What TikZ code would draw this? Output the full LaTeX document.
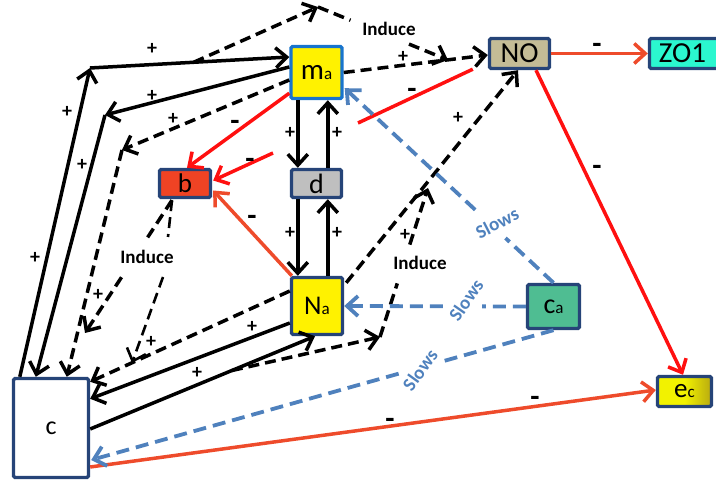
\documentclass[tikz,border=0pt]{standalone}
\usepackage{fontspec}
\setmainfont{Carlito}
\usetikzlibrary{arrows.meta,calc}
\definecolor{navy}{HTML}{264478}
\definecolor{mablue}{HTML}{1874CD}
\definecolor{notan}{HTML}{C4BC96}
\definecolor{zocyan}{HTML}{2BF7CF}
\definecolor{bred}{HTML}{EF4324}
\definecolor{dgray}{HTML}{BFBFBF}
\definecolor{cagreen}{HTML}{4FBD92}
\definecolor{ecy}{HTML}{F2F200}
\definecolor{ecd}{HTML}{B8AA10}
\definecolor{pred}{HTML}{FF1010}
\definecolor{ored}{HTML}{EE4B2B}
\definecolor{sblue}{HTML}{4F81BD}
\tikzset{
  box/.style={draw=navy, line width=3.4pt, inner sep=0pt, rounded corners=1.5pt, font=\fontsize{29}{29}\selectfont},
  tipb/.tip={Straight Barb[length=11pt,width=20pt]},
  ar/.style={line width=3.5pt, -tipb},
  ln/.style={line width=3.5pt},
  dsh/.style={dash pattern=on 11pt off 6pt},
  bd/.style={draw=sblue, line width=3.8pt, dash pattern=on 13pt off 7pt},
  pls/.style={font=\bfseries\fontsize{20}{20}\selectfont, inner sep=0pt},
  mns/.style={font=\bfseries\fontsize{30}{30}\selectfont, inner sep=0pt},
  ind/.style={font=\bfseries\fontsize{19}{19}\selectfont, inner sep=0pt},
  slw/.style={font=\bfseries\fontsize{19}{19}\selectfont, text=sblue, inner sep=0pt},
}
\newcommand\subt[1]{{\fontsize{17}{17}\selectfont #1}}
\begin{document}
\begin{tikzpicture}[x=1pt,y=-1pt]
\useasboundingbox (0,0) rectangle (716,481);
\clip (0,0) rectangle (716,481);
% nodes
\node[box, draw=mablue, fill=yellow, minimum width=51pt, minimum height=52pt] (ma) at (316.5,72.5) {m\subt{a}};
\node[box, fill=notan, minimum width=60pt, minimum height=30pt] (NO) at (519.5,53.5) {NO};
\node[box, fill=zocyan, minimum width=70pt, minimum height=30pt] (ZO1) at (684.5,53.5) {ZO1\hspace*{4pt}};
\node[box, fill=bred, minimum width=51pt, minimum height=28pt, font=\fontsize{27}{27}\selectfont] (b) at (185,183.5) {b};
\node[box, fill=dgray, minimum width=50pt, minimum height=28pt, font=\fontsize{28}{28}\selectfont] (d) at (316.5,183.5) {d};
\node[box, fill=yellow, minimum width=51pt, minimum height=57pt, font=\fontsize{27}{27}\selectfont] (Na) at (317,306) {N\subt{a}};
\node[box, fill=cagreen, minimum width=52pt, minimum height=44pt, font=\fontsize{28}{28}\selectfont] (ca) at (553.5,306.5) {c\subt{a}};
\node[box, left color=ecy, right color=ecd, middle color=ecy, minimum width=54pt, minimum height=30pt, font=\fontsize{27}{27}\selectfont] (ec) at (684.5,391.5) {e\subt{c}};
\node[box, fill=white, minimum width=75pt, minimum height=99pt, font=\fontsize{26}{26}\selectfont] (c) at (51,428) {c};
% bend and free-end coordinates
\coordinate (k1) at (90,68);
\coordinate (k2) at (105,115);
\coordinate (k3) at (122,150);
\coordinate (maL1) at ($(ma.west)+(0,-15.5)$);
\coordinate (ti) at (318,7);
\coordinate (te) at (448,60);
\coordinate (cNa1) at ($(c.east)+(0,1)$);
\coordinate (cNa2) at ($(Na.south)+(-2,0)$);
\coordinate (bi) at (380,337);
\coordinate (be) at (428,188);
\coordinate (bA) at ($(b.south)+(-13,1)$);
\coordinate (bAe) at (85,333);
\coordinate (bB1) at (168,237);
\coordinate (bB2) at (163,277);
\coordinate (bBe) at (132,363);
% black solid connectors
\draw[ar] ($(c.north west)+(8,0)$) -- (k1);
\draw[ar] (k1) -- (maL1);
\draw[ar] ($(ma.west)+(0,-5.5)$) -- (k2);
\draw[ar] (k2) -- ($(c.north west)+(24,0)$);
\draw[ar] ($(ma.south west)+(8.5,0)$) -- ($(d.north west)+(8,0)$);
\draw[ar] ($(d.north west)+(38,0)$) -- ($(ma.south west)+(38.5,0)$);
\draw[ar] ($(d.south west)+(8,0)$) -- ($(Na.north west)+(8,0)$);
\draw[ar] ($(Na.north west)+(38,0)$) -- ($(d.south west)+(38,0)$);
\draw[ar] ($(Na.west)+(0,17)$) -- ($(c.north east)+(0,22)$);
\draw[ar] (cNa1) -- (cNa2);
% black dashed connectors
\draw[ar,dsh] ($(ma.west)+(0,7.5)$) -- (k3);
\draw[ar,dsh] (k3) -- ($(c.north west)+(55,0)$);
\draw[ar,dsh] (ma.east) -- ($(NO.west)+(0,1.5)$);
\draw[ar,dsh] ($(Na.west)+(0,-15)$) -- ($(c.north east)+(0,5)$);
\draw[ar,dsh] ($(Na.north east)+(2,7)$) -- ($(NO.south)+(-1.5,0)$);
% induce (top)
\draw[ar,dsh] ($(k1)!0.52!(maL1)$) -- (ti);
\draw[ln,dsh] (ti) -- ($(ti)!0.25!(te)$);
\draw[ar,dsh] ($(ti)!0.7!(te)$) -- (te);
\node[ind] (ind1) at (389,29) {Induce};
% induce (bottom)
\draw[ar,dsh] ($(cNa1)!0.63!(cNa2)$) -- (bi);
\draw[ln,dsh] (bi) -- ($(bi)!0.36!(be)$);
\draw[ar,dsh] ($(bi)!0.62!(be)$) -- (be);
\node[ind] (ind2) at (420,263) {Induce};
% induce (from b)
\draw[ln,dsh] (bA) -- ($(bA)!0.28!(bAe)$);
\draw[ar,dsh] ($(bA)!0.58!(bAe)$) -- (bAe);
\draw[ln,dsh,line width=2.6pt] (bA) -- (bB1);
\draw[ar,dsh,line width=2.6pt] (bB2) -- (bBe);
\node[ind] (ind3) at (147,257) {Induce};
% red connectors
\draw[ar,pred] ($(ma.south west)+(0,-7)$) -- ($(b.north)+(2,0)$);
\draw[ln,pred] ($(NO.south west)+(-15,-1)$) -- (358,123);
\draw[ar,pred] (273,153) -- ($(b.east)+(1,-3)$);
\draw[ar,ored] ($(Na.north west)+(2,0)$) -- ($(b.east)+(1,7)$);
\draw[ar,ored] (NO.east) -- (ZO1.west);
\draw[ar,pred] ($(NO.south)+(16.5,0)$) -- ($(ec.north)+(-1.5,0)$);
\draw[ar,ored] ($(c.east)+(0,39)$) -- ($(ec.west)+(0,-1.5)$);
% blue slows connectors
\coordinate (maSE) at ($(ma.south east)+(1,-12)$);
\coordinate (cSl) at ($(c.east)+(1,32)$);
\draw[bd] (ca.north) -- ($(ca.north)!0.23!(maSE)$);
\draw[bd,-tipb] ($(ca.north)!0.375!(maSE)$) -- (maSE);
\draw[bd] (ca.west) -- ($(ca.west)!0.24!(Na.east)$);
\draw[bd,-tipb] ($(ca.west)!0.456!(Na.east)$) -- (Na.east);
\draw[bd] (ca.south) -- ($(ca.south)!0.24!(cSl)$);
\draw[bd,-tipb] ($(ca.south)!0.335!(cSl)$) -- (cSl);
\node[slw, rotate=27] (s1) at (497,223) {Slows};
\node[slw, rotate=55] (s2) at (466,300) {Slows};
\node[slw, rotate=54] (s3) at (420,370) {Slows};
% plus labels
\foreach \p [count=\i] in {(152,49),(67,112),(35,258),(152,96),(82,165),(173,119),(98,295),(151,342),(252,327),(197,373),(403,57),(458,118),(405,235),(290,133),(337,133),(290,233),(337,233)}
  \node[pls] (p\i) at \p {+};
% minus labels
\foreach \p [count=\i] in {(235,125),(250,163),(412,93),(252,220),(597,48),(597,170),(390,423),(535,401)}
  \node[mns] (m\i) at \p {-};
\end{tikzpicture}
\end{document}
